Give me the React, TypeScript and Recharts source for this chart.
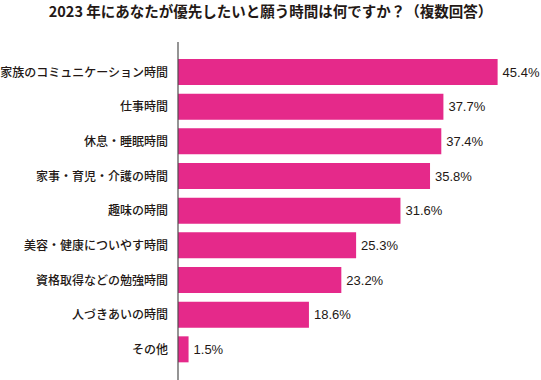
import React from "react";
import { BarChart, Bar, XAxis, YAxis, LabelList } from "recharts";

const categories = [
  "家族のコミュニケーション時間",
  "仕事時間",
  "休息・睡眠時間",
  "家事・育児・介護の時間",
  "趣味の時間",
  "美容・健康についやす時間",
  "資格取得などの勉強時間",
  "人づきあいの時間",
  "その他",
];
const values = [45.4, 37.7, 37.4, 35.8, 31.6, 25.3, 23.2, 18.6, 1.5];

const data = categories.map((name, i) => ({ name, value: values[i] }));

const font = '"Noto Sans CJK JP", "Noto Sans", sans-serif';
const numFont = '"Liberation Sans", Arial, sans-serif';

export default function App() {
  return (
    <div
      style={{
        position: "absolute",
        left: 0,
        top: 0,
        width: 541,
        height: 380,
        background: "#fff",
        fontFamily: font,
      }}
    >
      <div
        style={{
          position: "absolute",
          left: 0,
          top: 1,
          width: 541,
          textAlign: "center",
          fontSize: 14.5,
          fontWeight: 700,
          color: "#231815",
          lineHeight: "20px",
        }}
      >
        2023 年にあなたが優先したいと願う時間は何ですか？（複数回答）
      </div>
      <BarChart
        width={541}
        height={380}
        data={data}
        layout="vertical"
        margin={{ top: 42, right: 11, bottom: 0, left: 0 }}
        style={{ position: "absolute", left: 0, top: 0 }}
      >
        <XAxis type="number" domain={[0, 50]} hide />
        <YAxis
          type="category"
          dataKey="name"
          width={178}
          padding={{ top: 13, bottom: 13 }}
          tickLine={false}
          tickMargin={4}
          axisLine={{ stroke: "#4d4d4d", strokeWidth: 1.2 }}
          tick={{ fill: "#231815", fontSize: 12, fontFamily: font, fontWeight: 500 }}
          interval={0}
        />
        <Bar dataKey="value" fill="#e5298a" barSize={26} isAnimationActive={false}>
          <LabelList
            dataKey="value"
            position="right"
            offset={5}
            formatter={(v: any) => `${v}%`}
            style={{ fill: "#231815", fontSize: 13, fontFamily: numFont }}
          />
        </Bar>
      </BarChart>
    </div>
  );
}
